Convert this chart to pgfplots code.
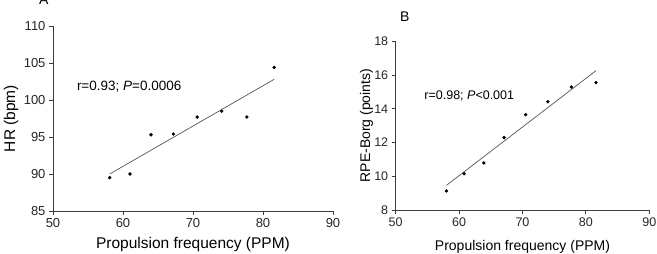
\documentclass[border=0pt]{standalone}
\usepackage{fontspec}
\setmainfont{Liberation Sans}
\usepackage{pgfplots}
\pgfplotsset{compat=1.18}

\definecolor{axisgray}{HTML}{3C3C3C}
\definecolor{fitgray}{HTML}{555555}

% Stroke frequency vs. heart rate and perceived exertion
\pgfplotstableread{
ppm   hr
58.1  89.5
61.0  90.0
64.0  95.3
67.2  95.4
70.6  97.7
74.1  98.5
77.7  97.7
81.6  104.4
}\hrdata

\pgfplotstableread{
ppm   rpe
58.0  9.13
60.8  10.15
63.9  10.79
67.1  12.29
70.5  13.65
74.0  14.42
77.7  15.29
81.6  15.55
}\rpedata

\pgfplotsset{
  panel/.style={
    scale only axis,
    anchor=south west,
    axis lines=left,
    axis line style={-, axisgray, line width=0.9pt},
    tick align=outside,
    major tick length=4pt,
    tick style={axisgray, line width=0.9pt},
    xmin=50, xmax=90, xtick={50,60,...,90},
    /pgf/number format/assume math mode=true,
    ticklabel style={text=black!85},
    xlabel={Propulsion frequency (PPM)},
    clip=false,
  },
  dots/.style={only marks, mark=*, mark size=1.5pt, black},
  fit/.style={no marks, fitgray, line width=0.7pt},
}

\begin{document}
\begin{tikzpicture}
\useasboundingbox (0pt,0pt) rectangle (657pt,254pt);

% Panel A
\begin{axis}[panel,
  at={(53pt,43pt)}, width=280pt, height=185pt,
  ymin=85, ymax=110, ytick={85,90,...,110},
  ticklabel style={font=\fontsize{13}{15}\selectfont},
  label style={font=\fontsize{15.5}{18}\selectfont},
  ylabel={HR (bpm)},
  xlabel style={at={(axis description cs:0.5,-0.205)}, anchor=base},
  ylabel style={at={(axis description cs:-0.15,0.5)}, anchor=center, rotate=0},
]
\addplot[dots] table[x=ppm, y=hr] {\hrdata};
\addplot[fit] coordinates {(58.1,90.0) (81.6,102.8)};
\node[anchor=west, font=\fontsize{13.5}{16}\selectfont, inner sep=0pt]
  at (axis cs:53.4,101.8) {r=0.93; \textit{P}=0.0006};
\end{axis}

% Panel B
\begin{axis}[panel,
  at={(395.7pt,44pt)}, width=253.6pt, height=168.7pt,
  ymin=8, ymax=18, ytick={8,10,...,18},
  ticklabel style={font=\fontsize{12.5}{15}\selectfont},
  label style={font=\fontsize{14}{17}\selectfont},
  ylabel={RPE-Borg (points)},
  xlabel style={at={(axis description cs:0.5,-0.24)}, anchor=base},
  ylabel style={at={(axis description cs:-0.115,0.5)}, anchor=center, rotate=0},
]
\addplot[dots] table[x=ppm, y=rpe] {\rpedata};
\addplot[fit] coordinates {(58.0,9.46) (81.6,16.26)};
\node[anchor=west, font=\fontsize{12.5}{15}\selectfont, inner sep=0pt]
  at (axis cs:54.5,14.78) {r=0.98; \textit{P}<0.001};
\end{axis}

% Panel letters
\node[anchor=base west, inner sep=0pt, font=\fontsize{14}{16}\selectfont] at (39pt,249pt) {A};
\node[anchor=base west, inner sep=0pt, font=\fontsize{14}{16}\selectfont] at (400pt,232pt) {B};
\end{tikzpicture}
\end{document}
